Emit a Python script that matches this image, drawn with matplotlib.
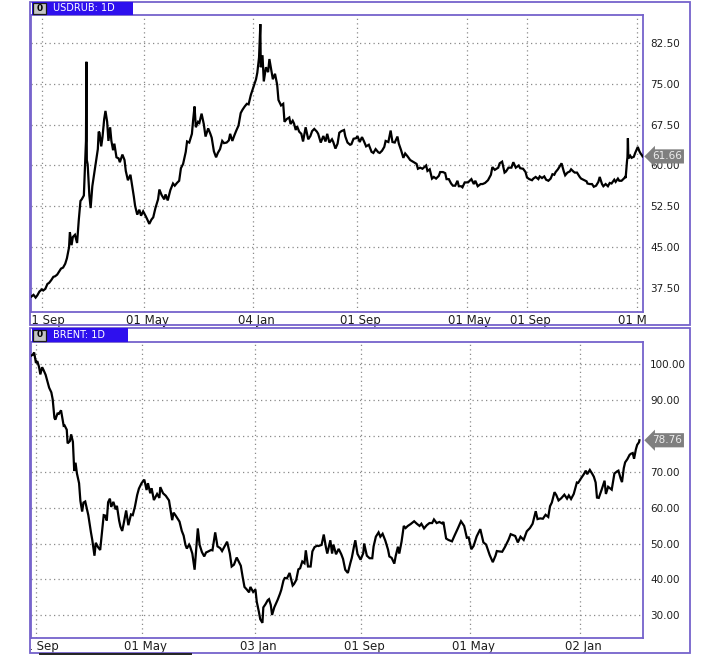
import matplotlib
matplotlib.use("Agg")
import numpy as np
import matplotlib.pyplot as plt
import matplotlib.dates as mdates
from matplotlib.patches import Rectangle
from matplotlib.lines import Line2D
from matplotlib.ticker import FixedLocator, FixedFormatter
from matplotlib.transforms import Bbox, TransformedBbox, ScaledTranslation, blended_transform_factory

# ---------------- data ----------------
usd_title = "USDRUB: 1D"
usd_dates = [
    "2014-08-08", "2014-08-13", "2014-08-18", "2014-08-22", "2014-08-27",
    "2014-09-02", "2014-09-05", "2014-09-10", "2014-09-15", "2014-09-19", "2014-09-24", "2014-09-29",
    "2014-10-03", "2014-10-08", "2014-10-13", "2014-10-17", "2014-10-22", "2014-10-27", "2014-10-31",
    "2014-11-05", "2014-11-07", "2014-11-11", "2014-11-14", "2014-11-19", "2014-11-24", "2014-11-28",
    "2014-12-02", "2014-12-05", "2014-12-10", "2014-12-12", "2014-12-15", "2014-12-16", "2014-12-17", "2014-12-19", "2014-12-23", "2014-12-26", "2014-12-30",
    "2015-01-12", "2015-01-14", "2015-01-16", "2015-01-20", "2015-01-23", "2015-01-27", "2015-01-30",
    "2015-02-03", "2015-02-06", "2015-02-10", "2015-02-13", "2015-02-17", "2015-02-20", "2015-02-25",
    "2015-03-02", "2015-03-05", "2015-03-11", "2015-03-16", "2015-03-19", "2015-03-24", "2015-03-30",
    "2015-04-02", "2015-04-07", "2015-04-10", "2015-04-15", "2015-04-20", "2015-04-24", "2015-04-29",
    "2015-05-05", "2015-05-08", "2015-05-13", "2015-05-18", "2015-05-22", "2015-05-27",
    "2015-06-02", "2015-06-05", "2015-06-10", "2015-06-16", "2015-06-19", "2015-06-24", "2015-06-30",
    "2015-07-06", "2015-07-10", "2015-07-15", "2015-07-20", "2015-07-24", "2015-07-29",
    "2015-08-04", "2015-08-07", "2015-08-12", "2015-08-18", "2015-08-21", "2015-08-24", "2015-08-27",
    "2015-09-01", "2015-09-04", "2015-09-09", "2015-09-14", "2015-09-18", "2015-09-24", "2015-09-29",
    "2015-10-02", "2015-10-07", "2015-10-12", "2015-10-16", "2015-10-21", "2015-10-26", "2015-10-30",
    "2015-11-05", "2015-11-10", "2015-11-13", "2015-11-18", "2015-11-23", "2015-11-27",
    "2015-12-02", "2015-12-07", "2015-12-11", "2015-12-16", "2015-12-21", "2015-12-25", "2015-12-30",
    "2016-01-11", "2016-01-14", "2016-01-18", "2016-01-21", "2016-01-22", "2016-01-26", "2016-01-29",
    "2016-02-03", "2016-02-08", "2016-02-11", "2016-02-16", "2016-02-19", "2016-02-24", "2016-02-29",
    "2016-03-03", "2016-03-09", "2016-03-14", "2016-03-17", "2016-03-22", "2016-03-28", "2016-03-31",
    "2016-04-05", "2016-04-08", "2016-04-12", "2016-04-15", "2016-04-20", "2016-04-25", "2016-04-29",
    "2016-05-05", "2016-05-11", "2016-05-16", "2016-05-20", "2016-05-25", "2016-05-31",
    "2016-06-03", "2016-06-09", "2016-06-15", "2016-06-20", "2016-06-24", "2016-06-29",
    "2016-07-05", "2016-07-08", "2016-07-13", "2016-07-18", "2016-07-22", "2016-07-27",
    "2016-08-02", "2016-08-05", "2016-08-10", "2016-08-16", "2016-08-19", "2016-08-24", "2016-08-30",
    "2016-09-02", "2016-09-07", "2016-09-12", "2016-09-16", "2016-09-21", "2016-09-27",
    "2016-10-03", "2016-10-07", "2016-10-12", "2016-10-18", "2016-10-21", "2016-10-26", "2016-10-31",
    "2016-11-03", "2016-11-09", "2016-11-14", "2016-11-18", "2016-11-23", "2016-11-29",
    "2016-12-02", "2016-12-07", "2016-12-12", "2016-12-16", "2016-12-21", "2016-12-27",
    "2017-01-10", "2017-01-13", "2017-01-18", "2017-01-23", "2017-01-27", "2017-01-31",
    "2017-02-03", "2017-02-08", "2017-02-13", "2017-02-17", "2017-02-22", "2017-02-28",
    "2017-03-03", "2017-03-09", "2017-03-14", "2017-03-17", "2017-03-22", "2017-03-27", "2017-03-31",
    "2017-04-05", "2017-04-10", "2017-04-13", "2017-04-18", "2017-04-21", "2017-04-26",
    "2017-05-03", "2017-05-10", "2017-05-15", "2017-05-18", "2017-05-23", "2017-05-29",
    "2017-06-02", "2017-06-07", "2017-06-13", "2017-06-19", "2017-06-22", "2017-06-27",
    "2017-07-04", "2017-07-07", "2017-07-12", "2017-07-17", "2017-07-20", "2017-07-25", "2017-07-31",
    "2017-08-04", "2017-08-09", "2017-08-15", "2017-08-18", "2017-08-24", "2017-08-29",
    "2017-09-01", "2017-09-06", "2017-09-12", "2017-09-15", "2017-09-20", "2017-09-26", "2017-09-29",
    "2017-10-04", "2017-10-09", "2017-10-13", "2017-10-18", "2017-10-23", "2017-10-27", "2017-10-31",
    "2017-11-03", "2017-11-08", "2017-11-13", "2017-11-16", "2017-11-21", "2017-11-24", "2017-11-29",
    "2017-12-04", "2017-12-07", "2017-12-12", "2017-12-15", "2017-12-20", "2017-12-26", "2017-12-29",
    "2018-01-10", "2018-01-12", "2018-01-17", "2018-01-22", "2018-01-26", "2018-01-31",
    "2018-02-05", "2018-02-08", "2018-02-13", "2018-02-16", "2018-02-21", "2018-02-26",
    "2018-03-02", "2018-03-06", "2018-03-12", "2018-03-15", "2018-03-20", "2018-03-23", "2018-03-28",
    "2018-04-02", "2018-04-05", "2018-04-06", "2018-04-09", "2018-04-10", "2018-04-11", "2018-04-12", "2018-04-16", "2018-04-19", "2018-04-24", "2018-04-27",
    "2018-05-03", "2018-05-07", "2018-05-10", "2018-05-14", "2018-05-15",
]
usd_values = [
    36.0, 36.3, 35.8, 36.2, 36.9,
    37.3, 37.1, 37.4, 38.3, 38.5, 39.0, 39.6,
    39.7, 40.0, 40.6, 41.1, 41.3, 42.0, 43.0,
    45.0, 47.8, 45.4, 46.9, 47.3, 45.8, 50.0,
    53.5, 53.8, 54.5, 58.4, 64.5, 79.0, 61.0, 60.2, 54.5, 52.2, 56.2,
    63.0, 66.2, 66.0, 63.5, 65.2, 68.5, 70.0,
    68.0, 64.5, 67.0, 64.5, 62.8, 64.0, 61.5,
    61.3, 60.6, 62.0, 61.0, 59.0, 57.3, 58.3,
    56.8, 54.3, 52.6, 51.0, 51.9, 50.8, 51.6,
    50.7, 50.2, 49.3, 50.1, 50.5, 52.2,
    53.8, 55.6, 54.6, 53.8, 54.7, 53.6, 55.5,
    56.7, 56.3, 56.8, 57.2, 59.5, 60.3,
    62.5, 64.4, 64.2, 65.8, 68.5, 70.8, 67.0,
    68.0, 67.8, 69.5, 67.6, 65.3, 66.8, 65.8,
    65.1, 62.6, 61.5, 62.3, 63.0, 64.5, 64.1,
    64.2, 64.6, 65.8, 64.5, 65.6, 66.4,
    67.3, 69.6, 70.2, 70.8, 71.3, 71.2, 72.9,
    75.8, 77.0, 79.8, 85.9, 78.0, 80.2, 75.4,
    78.0, 77.1, 79.5, 77.2, 75.8, 76.8, 74.8,
    72.0, 71.0, 71.3, 68.0, 68.5, 68.8, 67.6,
    68.2, 67.7, 66.5, 67.2, 66.2, 65.8, 64.4,
    67.0, 64.8, 65.4, 66.3, 66.7, 66.2,
    65.8, 64.2, 65.4, 64.4, 65.8, 64.2,
    64.8, 64.3, 63.1, 64.0, 66.0, 66.3,
    66.5, 65.3, 64.2, 63.8, 63.9, 64.9, 65.0,
    65.4, 64.3, 65.2, 64.5, 63.5, 63.8,
    62.5, 62.3, 63.0, 62.4, 62.3, 62.7, 63.4,
    64.5, 64.3, 66.4, 64.3, 64.2, 65.3,
    64.0, 62.8, 61.4, 62.2, 61.7, 61.0,
    60.3, 59.4, 59.6, 59.4, 59.7, 60.0,
    59.0, 59.3, 57.6, 57.9, 57.6, 58.1,
    58.8, 58.8, 58.6, 57.5, 57.5, 56.7, 56.3,
    56.3, 57.2, 56.2, 56.2, 56.0, 56.9,
    56.9, 57.5, 56.6, 57.2, 56.2, 56.6,
    56.6, 56.8, 57.3, 58.3, 59.7, 59.2,
    59.6, 60.4, 60.7, 58.7, 58.9, 59.6, 59.6,
    60.6, 59.6, 60.0, 59.5, 59.4, 58.8,
    57.8, 57.5, 57.3, 57.6, 57.9, 57.5, 58.0,
    57.7, 58.0, 57.4, 57.2, 57.6, 58.4, 58.3,
    58.8, 59.3, 60.0, 60.4, 58.9, 58.2, 58.7,
    58.9, 59.3, 58.9, 58.7, 58.7, 57.9, 57.6,
    57.1, 56.7, 56.6, 56.6, 56.1, 56.3,
    57.0, 57.9, 56.6, 56.2, 56.6, 56.2,
    56.8, 56.7, 57.4, 57.0, 57.6, 57.2, 57.2,
    57.6, 57.9, 57.7, 60.8, 61.5, 65.0, 61.3, 61.8, 61.4, 61.6, 62.3,
    63.4, 62.6, 62.2, 61.8, 61.66,
]
usd_yticks = [37.5, 45.0, 52.5, 60.0, 67.5, 75.0, 82.5]
usd_ylabels = ["37.50", "45.00", "52.50", "60.00", "67.50", "75.00", "82.50"]
usd_xticks = ["2014-09-01", "2015-05-01", "2016-01-04", "2016-09-01", "2017-05-01", "2017-09-01", "2018-05-01"]
usd_xlabels = ["01 Sep", "01 May", "04 Jan", "01 Sep", "01 May", "01 Sep", "01 May"]
usd_last = 61.66

brent_title = "BRENT: 1D"
brent_dates = [
    "2014-08-22", "2014-08-26", "2014-08-29",
    "2014-09-02", "2014-09-05", "2014-09-09", "2014-09-12", "2014-09-16", "2014-09-19", "2014-09-24", "2014-09-29",
    "2014-10-02", "2014-10-07", "2014-10-10", "2014-10-14", "2014-10-16", "2014-10-21", "2014-10-24", "2014-10-29",
    "2014-11-04", "2014-11-06", "2014-11-11", "2014-11-13", "2014-11-18", "2014-11-21", "2014-11-25", "2014-11-28",
    "2014-12-01", "2014-12-04", "2014-12-09", "2014-12-12", "2014-12-16", "2014-12-19", "2014-12-23", "2014-12-30",
    "2015-01-05", "2015-01-08", "2015-01-13", "2015-01-16", "2015-01-21", "2015-01-26", "2015-01-30",
    "2015-02-03", "2015-02-06", "2015-02-10", "2015-02-13", "2015-02-17", "2015-02-20", "2015-02-25",
    "2015-03-02", "2015-03-05", "2015-03-10", "2015-03-13", "2015-03-17", "2015-03-20", "2015-03-26", "2015-03-31",
    "2015-04-06", "2015-04-10", "2015-04-15", "2015-04-20", "2015-04-24", "2015-04-30",
    "2015-05-06", "2015-05-11", "2015-05-14", "2015-05-19", "2015-05-22", "2015-05-27",
    "2015-06-03", "2015-06-08", "2015-06-10", "2015-06-16", "2015-06-22", "2015-06-29",
    "2015-07-06", "2015-07-09", "2015-07-13", "2015-07-17", "2015-07-22", "2015-07-27", "2015-07-31",
    "2015-08-04", "2015-08-07", "2015-08-12", "2015-08-14", "2015-08-19", "2015-08-24", "2015-08-27", "2015-08-31",
    "2015-09-04", "2015-09-09", "2015-09-14", "2015-09-18", "2015-09-23", "2015-09-29",
    "2015-10-02", "2015-10-08", "2015-10-13", "2015-10-19", "2015-10-23", "2015-10-28",
    "2015-11-03", "2015-11-09", "2015-11-13", "2015-11-18", "2015-11-24", "2015-11-30",
    "2015-12-03", "2015-12-07", "2015-12-11", "2015-12-16", "2015-12-21", "2015-12-24", "2015-12-30",
    "2016-01-04", "2016-01-07", "2016-01-12", "2016-01-15", "2016-01-20", "2016-01-22", "2016-01-27",
    "2016-02-01", "2016-02-04", "2016-02-08", "2016-02-11", "2016-02-16", "2016-02-19", "2016-02-24", "2016-02-29",
    "2016-03-03", "2016-03-08", "2016-03-11", "2016-03-16", "2016-03-22", "2016-03-29",
    "2016-04-01", "2016-04-06", "2016-04-11", "2016-04-15", "2016-04-20", "2016-04-25", "2016-04-28",
    "2016-05-03", "2016-05-09", "2016-05-13", "2016-05-18", "2016-05-24", "2016-05-27",
    "2016-06-03", "2016-06-08", "2016-06-13", "2016-06-16", "2016-06-23", "2016-06-27", "2016-06-30",
    "2016-07-06", "2016-07-12", "2016-07-18", "2016-07-22", "2016-07-27",
    "2016-08-02", "2016-08-08", "2016-08-11", "2016-08-16", "2016-08-19", "2016-08-24", "2016-08-31",
    "2016-09-06", "2016-09-08", "2016-09-14", "2016-09-20", "2016-09-26", "2016-09-29",
    "2016-10-04", "2016-10-10", "2016-10-14", "2016-10-19", "2016-10-25", "2016-10-31",
    "2016-11-03", "2016-11-08", "2016-11-14", "2016-11-17", "2016-11-22", "2016-11-25", "2016-11-30",
    "2016-12-05", "2016-12-09", "2016-12-14", "2016-12-20", "2016-12-28",
    "2017-01-03", "2017-01-09", "2017-01-13", "2017-01-19", "2017-01-25", "2017-01-31",
    "2017-02-06", "2017-02-10", "2017-02-16", "2017-02-22", "2017-02-28",
    "2017-03-03", "2017-03-09", "2017-03-14", "2017-03-22", "2017-03-28",
    "2017-04-04", "2017-04-11", "2017-04-18", "2017-04-24", "2017-04-28",
    "2017-05-04", "2017-05-09", "2017-05-16", "2017-05-24", "2017-05-31",
    "2017-06-06", "2017-06-14", "2017-06-21", "2017-06-27", "2017-06-30",
    "2017-07-05", "2017-07-12", "2017-07-18", "2017-07-26", "2017-07-31",
    "2017-08-04", "2017-08-10", "2017-08-16", "2017-08-22", "2017-08-29",
    "2017-09-05", "2017-09-12", "2017-09-18", "2017-09-25", "2017-09-29",
    "2017-10-05", "2017-10-11", "2017-10-17", "2017-10-23", "2017-10-27", "2017-10-31",
    "2017-11-06", "2017-11-10", "2017-11-15", "2017-11-21", "2017-11-28",
    "2017-12-04", "2017-12-08", "2017-12-13", "2017-12-19", "2017-12-26", "2017-12-29",
    "2018-01-04", "2018-01-10", "2018-01-15", "2018-01-18", "2018-01-24", "2018-01-29",
    "2018-02-02", "2018-02-06", "2018-02-09", "2018-02-13", "2018-02-20", "2018-02-26",
    "2018-03-01", "2018-03-06", "2018-03-09", "2018-03-14", "2018-03-20", "2018-03-26", "2018-03-29",
    "2018-04-03", "2018-04-06", "2018-04-10", "2018-04-13", "2018-04-18", "2018-04-23", "2018-04-26", "2018-04-30",
    "2018-05-03", "2018-05-07", "2018-05-10", "2018-05-14", "2018-05-15",
]
brent_values = [
    102.3, 102.6, 103.2,
    100.3, 100.8, 99.2, 97.1, 99.1, 98.4, 97.0, 94.7,
    93.4, 92.1, 90.2, 85.0, 84.5, 86.2, 86.1, 87.1,
    82.8, 82.9, 81.7, 77.9, 78.5, 80.4, 78.3, 70.2,
    72.5, 69.6, 66.8, 61.9, 58.9, 61.4, 61.7, 57.9,
    53.1, 51.0, 46.6, 50.2, 49.0, 48.2, 53.0,
    57.9, 57.8, 56.4, 61.5, 62.5, 60.2, 61.6,
    59.5, 60.5, 56.4, 54.7, 53.5, 55.3, 59.2, 55.1,
    58.1, 57.9, 60.3, 63.5, 65.3, 66.8,
    67.8, 64.9, 66.8, 64.0, 65.4, 62.1,
    63.8, 62.7, 65.7, 64.0, 63.3, 62.0,
    56.5, 58.6, 57.9, 57.1, 56.1, 53.5, 52.2,
    49.6, 48.6, 49.7, 49.2, 47.2, 42.7, 47.6, 54.2,
    49.6, 47.6, 46.4, 47.5, 47.8, 48.2,
    48.1, 53.1, 49.2, 48.7, 47.9, 49.1,
    50.5, 47.2, 43.6, 44.1, 46.1, 44.6,
    43.8, 40.7, 37.9, 37.2, 36.4, 37.9, 36.5,
    37.2, 33.8, 30.9, 28.9, 27.9, 32.2, 33.1,
    34.2, 34.5, 32.9, 30.1, 32.2, 33.0, 34.4, 36.0,
    37.1, 39.7, 40.4, 40.3, 41.8, 38.3,
    38.7, 39.8, 42.8, 43.1, 45.0, 44.5, 48.1,
    43.6, 43.6, 47.8, 49.0, 49.4, 49.3,
    49.6, 52.5, 48.9, 47.2, 50.9, 47.2, 49.7,
    47.0, 48.5, 47.0, 45.7, 42.7,
    41.8, 44.7, 46.0, 49.2, 50.9, 47.1, 45.5,
    47.3, 50.0, 46.6, 45.9, 45.9, 49.2,
    51.9, 53.1, 51.9, 52.7, 50.8, 48.3,
    46.4, 46.0, 44.4, 46.5, 49.1, 47.2, 50.5,
    54.9, 54.3, 54.9, 55.4, 56.2,
    55.5, 54.9, 55.5, 54.2, 55.1, 55.7,
    55.7, 56.7, 55.7, 56.0, 55.6,
    56.0, 51.4, 51.0, 50.6, 52.3,
    54.2, 56.2, 54.9, 51.6, 51.7,
    48.4, 49.3, 52.0, 54.0, 50.3,
    49.7, 46.8, 44.8, 46.6, 47.9,
    47.8, 47.7, 49.0, 51.0, 52.6,
    52.4, 52.1, 50.3, 51.9, 51.0,
    53.4, 54.3, 55.5, 59.0, 56.8,
    57.0, 56.9, 58.0, 57.4, 60.4, 61.4,
    64.3, 63.5, 62.0, 62.6, 63.6,
    62.5, 63.4, 62.4, 63.8, 67.0, 66.9,
    68.1, 69.2, 70.3, 69.3, 70.5, 69.5,
    68.6, 67.0, 62.8, 62.7, 65.2, 67.5,
    63.8, 65.8, 65.5, 65.0, 69.5, 70.1, 70.3,
    68.1, 67.1, 71.0, 72.6, 73.5, 74.7, 75.0, 75.2,
    73.6, 76.2, 77.5, 78.2, 78.76,
]
brent_yticks = [30, 40, 50, 60, 70, 80, 90, 100]
brent_ylabels = ["30.00", "40.00", "50.00", "60.00", "70.00", "", "90.00", "100.00"]
brent_xticks = ["2014-09-01", "2015-05-01", "2016-01-03", "2016-09-01", "2017-05-01", "2018-01-02"]
brent_xlabels = ["01 Sep", "01 May", "03 Jan", "01 Sep", "01 May", "02 Jan"]
brent_last = 78.76

if len(usd_dates) != len(usd_values) or len(brent_dates) != len(brent_values):
    raise SystemExit("length mismatch %d %d %d %d" % (len(usd_dates), len(usd_values), len(brent_dates), len(brent_values)))

# ---------------- layout / style ----------------
W, H = 720, 655
FRAME = "#7562cc"
TAB = "#2e10ee"
GRID = "#8a8a8a"
BOXC = "#7f7f7f"

fig = plt.figure(figsize=(W / 100, H / 100), dpi=100)
fig.patch.set_facecolor("white")


def rect_px(x0, y0, x1, y1, **kw):
    r = Rectangle((x0 / W, 1 - y1 / H), (x1 - x0) / W, (y1 - y0) / H,
                  transform=fig.transFigure, **kw)
    fig.add_artist(r)
    return r


def interp_ext(x, xp, fp):
    x = np.asarray(x, dtype=float)
    y = np.interp(x, xp, fp)
    s0 = (fp[1] - fp[0]) / (xp[1] - xp[0])
    s1 = (fp[-1] - fp[-2]) / (xp[-1] - xp[-2])
    y = np.where(x < xp[0], fp[0] + (x - xp[0]) * s0, y)
    y = np.where(x > xp[-1], fp[-1] + (x - xp[-1]) * s1, y)
    return y


def panel(outer, plot_top, plot_bot, title, dates, values, yticks, ylabels, ylim,
          knot_dates, knot_px, xticks, xlabels, last, tab_right):
    ox0, oy0, ox1, oy1 = outer
    ax = fig.add_axes([31 / W, 1 - plot_bot / H, (643 - 31) / W, (plot_bot - plot_top) / H])
    x = np.array(dates, dtype="datetime64[D]")
    ax.plot(x, values, color="black", lw=1.6, solid_joinstyle="miter", zorder=3)

    kd = mdates.date2num(np.array(knot_dates, dtype="datetime64[D]"))
    kp = np.array(knot_px, dtype=float)
    ax.set_xscale("function", functions=(lambda v: interp_ext(v, kd, kp),
                                         lambda v: interp_ext(v, kp, kd)))
    ax.set_xlim(kd[0], kd[-1])
    xt = mdates.date2num(np.array(xticks, dtype="datetime64[D]"))
    ax.xaxis.set_major_locator(FixedLocator(xt))
    ax.xaxis.set_major_formatter(FixedFormatter(xlabels))
    ax.xaxis.set_minor_locator(FixedLocator([]))

    ax.set_ylim(*ylim)
    ax.yaxis.tick_right()
    ax.yaxis.set_major_locator(FixedLocator(yticks))
    ax.yaxis.set_major_formatter(FixedFormatter(ylabels))
    ax.yaxis.set_minor_locator(FixedLocator([]))

    ax.grid(True, color=GRID, linestyle=(0, (1, 2.6)), lw=0.9)
    ax.set_axisbelow(True)
    ax.tick_params(axis="y", length=0, pad=5, labelsize=7.5, labelcolor="#1e1e1e")
    ax.tick_params(axis="x", length=0, pad=1.5, labelsize=8.5, labelcolor="#1e1e1e")
    for lbl in ax.get_xticklabels():
        lbl.set_fontfamily(["Liberation Sans Narrow", "DejaVu Sans"])
    for s in ax.spines.values():
        s.set_color(FRAME)
        s.set_linewidth(1.3)

    # clip the x labels to the plot's horizontal range, shift slightly right
    clip = TransformedBbox(Bbox([[0, -1], [1.006, 1]]), ax.transAxes)
    for lbl in ax.get_xticklabels():
        lbl.set_clip_box(clip)
        lbl.set_clip_on(True)
        lbl.set_transform(lbl.get_transform() + ScaledTranslation(3 / 100, 0, fig.dpi_scale_trans))

    # last price marker
    tr = blended_transform_factory(ax.transAxes, ax.transData)
    ax.annotate("%.2f" % last, xy=(1.0, last), xycoords=tr, xytext=(9, 0),
                textcoords="offset pixels", ha="left", va="center", fontsize=7.5,
                color="#ededed", annotation_clip=False, zorder=6,
                bbox=dict(boxstyle="larrow,pad=0.2", fc=BOXC, ec="none"))

    # outer frame, title tab and icon
    rect_px(ox0, oy0, ox1, oy1, fill=False, ec=FRAME, lw=1.3)
    rect_px(32, oy0 + 0.5, tab_right, plot_top, fc=TAB, ec="none")
    rect_px(33, oy0 + 2, 46, plot_top - 1.5, fc="#c4c4c4", ec="#1a1a1a", lw=0.9)
    fig.text(39.5 / W, 1 - (oy0 + plot_top) / 2 / H, "0", fontsize=6.5, fontweight="bold",
             color="black", ha="center", va="center")
    fig.text(53 / W, 1 - (oy0 + plot_top) / 2 / H, title, fontsize=7, color="white",
             ha="left", va="center")
    return ax


panel((30, 1.5, 690, 324.5), 15, 311.5, usd_title, usd_dates, usd_values,
      usd_yticks, usd_ylabels, (33.25, 87.57),
      ["2014-08-07", "2014-09-01", "2015-05-01", "2016-01-04", "2016-09-01",
       "2017-05-01", "2017-09-01", "2018-05-01", "2018-05-16"],
      [31, 41.5, 144, 253, 357, 467, 527, 637, 643],
      usd_xticks, usd_xlabels, usd_last, 133)

panel((30, 327.5, 690, 652.5), 342, 638, brent_title, brent_dates, brent_values,
      brent_yticks, brent_ylabels, (23.68, 106.13),
      ["2014-08-22", "2014-09-01", "2015-05-01", "2016-01-03", "2016-09-01",
       "2017-05-01", "2018-01-02", "2018-05-23"],
      [31, 35.5, 142, 255, 361, 470, 580, 643],
      brent_xticks, brent_xlabels, brent_last, 128)

fig.add_artist(Line2D([40 / W, 191 / W], [1 - 653.8 / H] * 2, transform=fig.transFigure,
                      color="#222222", lw=1.4))

fig.savefig("out.png", dpi=100, facecolor="white")
